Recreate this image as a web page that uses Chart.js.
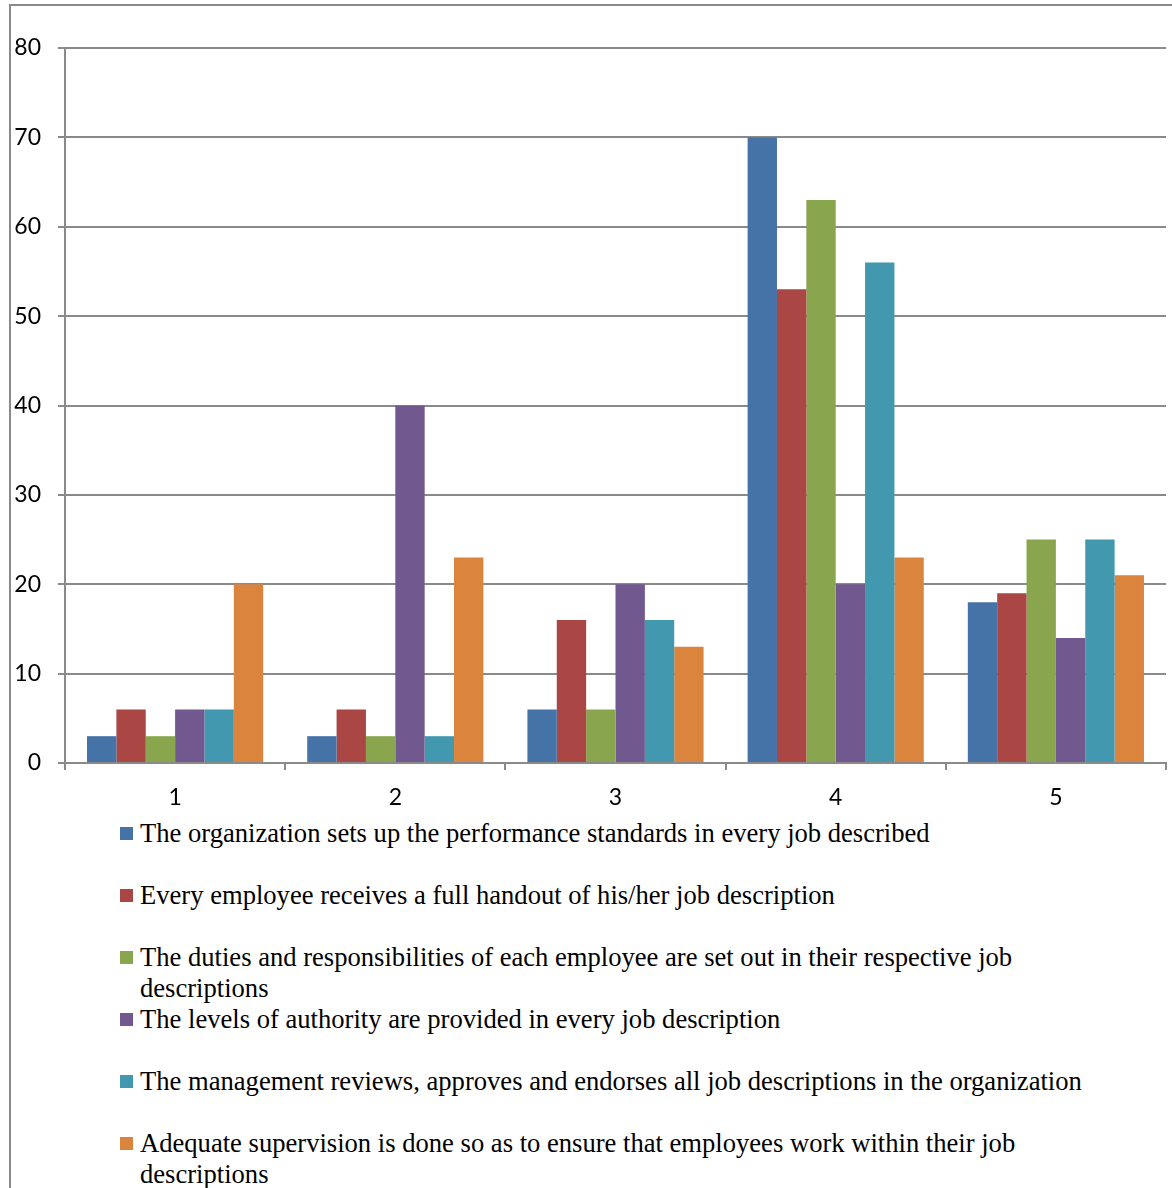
<!DOCTYPE html>
<html>
<head>
<meta charset="utf-8">
<script src="https://cdn.jsdelivr.net/npm/chart.js@4"></script>
<style>
  html, body { margin: 0; padding: 0; background: #fff; }
  body { width: 1172px; height: 1188px; position: relative; overflow: hidden; }
  #frame { position: absolute; left: 9px; top: 4px; width: 1200px; height: 1300px;
           border-left: 2px solid #8a8a8a; border-top: 2px solid #8a8a8a; }
  #chartBox { position: absolute; left: 0; top: 0; width: 1172px; height: 815px; }
  #legend { position: absolute; left: 120px; top: 818px; width: 1040px;
            font-family: "Liberation Serif", "Times New Roman", serif; font-size: 26.6px; color: #000; }
  .item { position: relative; height: 62px; line-height: 31px; }
  .swatch { position: absolute; left: 0; top: 9px; width: 13px; height: 13px; }
  .text { position: absolute; left: 20px; top: 0; width: 960px; }
</style>
</head>
<body>
<div id="frame"></div>
<div id="chartBox"><canvas id="c" width="1172" height="815"></canvas></div>
<div id="legend"></div>
<script>
const categories = ["1", "2", "3", "4", "5"];
const seriesLabels = [
  "The organization sets up the performance standards in every job described",
  "Every employee receives a full handout of his/her job description",
  "The duties and responsibilities of each employee are set out in their respective job descriptions",
  "The levels of authority are provided in every job description",
  "The management reviews, approves and endorses all job descriptions in the organization",
  "Adequate supervision is done so as to ensure that employees work within their job descriptions"
];
const standardsSet   = [3, 3, 6, 70, 18];
const handoutGiven   = [6, 6, 16, 53, 19];
const dutiesSetOut   = [3, 3, 6, 63, 25];
const authorityLevels = [6, 40, 20, 20, 14];
const managementReview = [6, 3, 16, 56, 25];
const supervision    = [20, 23, 13, 23, 21];
const yTicks = [0, 10, 20, 30, 40, 50, 60, 70, 80];
const colors = ["#4572A7", "#AA4643", "#89A54E", "#71588F", "#4198AF", "#DB843D"];

const seriesValues = [standardsSet, handoutGiven, dutiesSetOut, authorityLevels, managementReview, supervision];

const datasets = seriesValues.map((vals, i) => ({
  label: seriesLabels[i],
  data: vals,
  backgroundColor: colors[i],
  borderWidth: 0,
  categoryPercentage: 0.8,
  barPercentage: 1.0
}));

const gridColor = "#8a8a8a";
const tickFont = { family: "Lato, 'Open Sans', sans-serif", size: 23 };

const chart = new Chart(document.getElementById("c"), {
  type: "bar",
  data: { labels: categories, datasets },
  options: {
    responsive: false,
    animation: false,
    devicePixelRatio: 1,
    layout: { padding: { top: 48, right: 6, left: 0, bottom: 0 } },
    plugins: { legend: { display: false }, tooltip: { enabled: false } },
    scales: {
      x: {
        offset: true,
        grid: { display: true, drawOnChartArea: false, drawTicks: true, tickLength: 7,
                color: gridColor, lineWidth: 2, offset: true },
        border: { display: true, color: gridColor, width: 2 },
        ticks: { color: "#000", font: tickFont, padding: 14, maxRotation: 0 },
        afterFit: (s) => { s.height = 52; }
      },
      y: {
        min: 0, max: 80,
        afterBuildTicks: (s) => { s.ticks = yTicks.map(v => ({ value: v })); },
        grid: { color: gridColor, lineWidth: 2, tickLength: 7, drawTicks: true },
        border: { display: true, color: gridColor, width: 2 },
        ticks: { color: "#000", font: tickFont, padding: 17 },
        afterFit: (s) => { s.width = 65; }
      }
    }
  }
});

// legend built from the chart's own datasets
const legend = document.getElementById("legend");
chart.data.datasets.forEach((ds) => {
  const item = document.createElement("div");
  item.className = "item";
  const sw = document.createElement("div");
  sw.className = "swatch";
  sw.style.background = ds.backgroundColor;
  const tx = document.createElement("div");
  tx.className = "text";
  tx.textContent = ds.label;
  item.appendChild(sw);
  item.appendChild(tx);
  legend.appendChild(item);
});
</script>
</body>
</html>
